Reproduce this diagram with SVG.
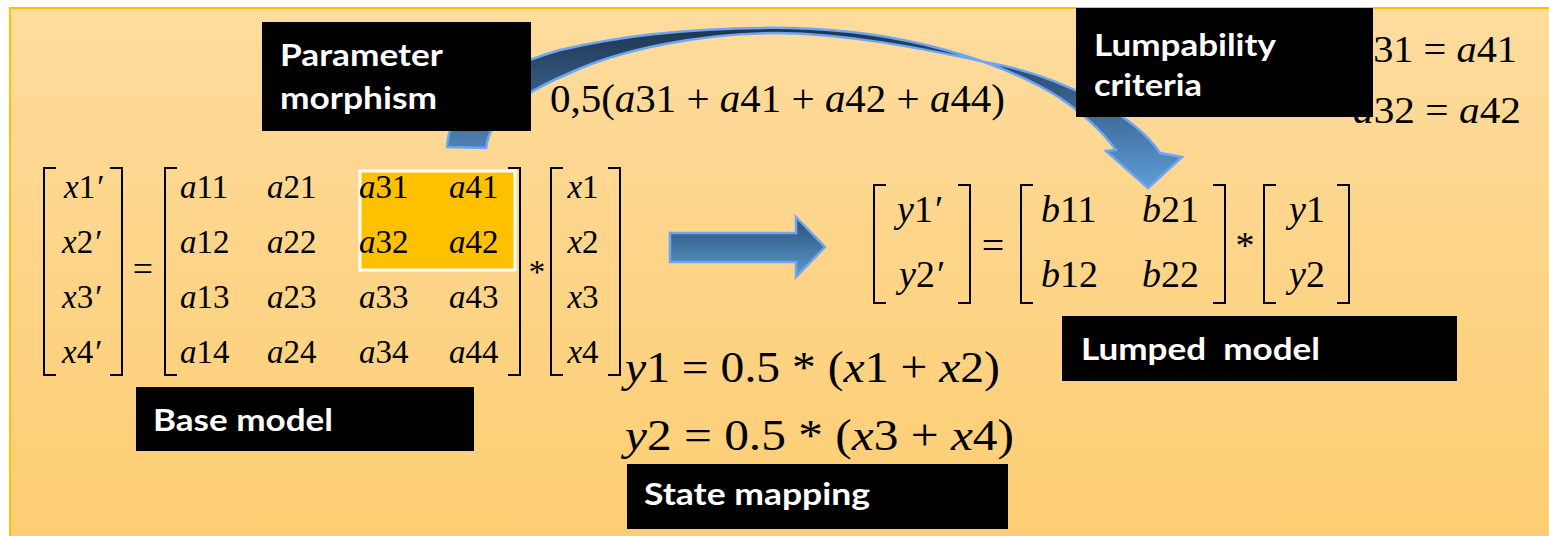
<svg xmlns="http://www.w3.org/2000/svg" width="1549" height="536" viewBox="0 0 1549 536">
<defs>
<linearGradient id="bg" x1="0" y1="0" x2="0" y2="1">
<stop offset="0" stop-color="#FEDC9E"/>
<stop offset="1" stop-color="#FDCD72"/>
</linearGradient>
<linearGradient id="blk" x1="0" y1="0" x2="0" y2="1">
<stop offset="0" stop-color="#2B4E74"/>
<stop offset="1" stop-color="#5A9ACF"/>
</linearGradient>
<linearGradient id="crv" gradientUnits="userSpaceOnUse" x1="0" y1="28" x2="0" y2="188">
<stop offset="0" stop-color="#1F3650"/>
<stop offset="0.4" stop-color="#365C86"/>
<stop offset="1" stop-color="#5E9DD8"/>
</linearGradient>
<style>
.m{font-family:"Liberation Serif","Times New Roman",serif;fill:#000}
.s{font-size:33px}
.r{font-size:38px}
.i{font-style:italic}
.br{fill:none;stroke:#000;stroke-width:2}
.box{fill:#000}
.lbl{font-family:Lato,"Open Sans",sans-serif;font-weight:700;fill:#fff;font-size:31px}
.arr{stroke:#6EA6F5;stroke-width:2.5;stroke-linejoin:miter}
</style>
</defs>
<rect x="10" y="8" width="1545" height="535" fill="url(#bg)" stroke="#FFC000" stroke-width="2"/>

<g id="connectors">
<path id="curved-arrow" class="arr" fill="url(#crv)" d="M447,147 C450,100 490,70 560,50 C640,31 720,27 790,28 C900,30 1000,60 1060,98 C1085,115 1105,135 1116,150 L1106,151 L1148,188 L1182,157 L1160,153 C1135,115 1060,75 985,62 C920,48 850,34 777,33 C700,33 620,50 572,72 C515,96 490,118 486,148 Z"/>
<polygon id="block-arrow" class="arr" fill="url(#blk)" points="670,233 796,233 796,217 825,247 796,277 796,262 670,262"/>
</g>

<g id="base-equation">
<rect x="360" y="171" width="155" height="99" fill="#FFC000" stroke="#FFFFFF" stroke-width="3"/>
<path class="br" d="M56,168 H44 V375 H56 M110,168 H122 V375 H110"/>
<path class="br" d="M177,168 H165 V375 H177 M508,168 H520 V375 H508"/>
<path class="br" d="M563,168 H551 V375 H563 M608,168 H620 V375 H608"/>
<text class="m s" x="64" y="198"><tspan class="i">x</tspan>1<tspan dx="2">′</tspan></text>
<text class="m s" x="62" y="253"><tspan class="i">x</tspan>2<tspan dx="2">′</tspan></text>
<text class="m s" x="62" y="308"><tspan class="i">x</tspan>3<tspan dx="2">′</tspan></text>
<text class="m s" x="62" y="363"><tspan class="i">x</tspan>4<tspan dx="2">′</tspan></text>
<text class="m" style="font-size:36px" x="143" y="281" text-anchor="middle">=</text>
<text class="m s" x="180" y="198"><tspan class="i">a</tspan>11</text>
<text class="m s" x="267" y="198"><tspan class="i">a</tspan>21</text>
<text class="m s" x="359" y="198"><tspan class="i">a</tspan>31</text>
<text class="m s" x="449" y="198"><tspan class="i">a</tspan>41</text>
<text class="m s" x="180" y="253"><tspan class="i">a</tspan>12</text>
<text class="m s" x="267" y="253"><tspan class="i">a</tspan>22</text>
<text class="m s" x="359" y="253"><tspan class="i">a</tspan>32</text>
<text class="m s" x="449" y="253"><tspan class="i">a</tspan>42</text>
<text class="m s" x="180" y="308"><tspan class="i">a</tspan>13</text>
<text class="m s" x="267" y="308"><tspan class="i">a</tspan>23</text>
<text class="m s" x="359" y="308"><tspan class="i">a</tspan>33</text>
<text class="m s" x="449" y="308"><tspan class="i">a</tspan>43</text>
<text class="m s" x="180" y="363"><tspan class="i">a</tspan>14</text>
<text class="m s" x="267" y="363"><tspan class="i">a</tspan>24</text>
<text class="m s" x="359" y="363"><tspan class="i">a</tspan>34</text>
<text class="m s" x="449" y="363"><tspan class="i">a</tspan>44</text>
<text class="m s" x="537" y="283" text-anchor="middle">*</text>
<text class="m s" x="583" y="198" text-anchor="middle"><tspan class="i">x</tspan>1</text>
<text class="m s" x="583" y="253" text-anchor="middle"><tspan class="i">x</tspan>2</text>
<text class="m s" x="583" y="308" text-anchor="middle"><tspan class="i">x</tspan>3</text>
<text class="m s" x="583" y="363" text-anchor="middle"><tspan class="i">x</tspan>4</text>
</g>

<g id="lumped-equation">
<path class="br" d="M886,185 H874 V303 H886 M958,185 H970 V303 H958"/>
<path class="br" d="M1033,185 H1021 V303 H1033 M1213,185 H1225 V303 H1213"/>
<path class="br" d="M1276,185 H1264 V303 H1276 M1337,185 H1349 V303 H1337"/>
<text class="m r" x="897" y="222"><tspan class="i">y</tspan>1<tspan dx="2">′</tspan></text>
<text class="m r" x="899" y="287"><tspan class="i">y</tspan>2<tspan dx="2">′</tspan></text>
<text class="m" style="font-size:40px" x="993" y="259" text-anchor="middle">=</text>
<text class="m r" x="1041" y="222"><tspan class="i">b</tspan>11</text>
<text class="m r" x="1142" y="222"><tspan class="i">b</tspan>21</text>
<text class="m r" x="1041" y="287"><tspan class="i">b</tspan>12</text>
<text class="m r" x="1142" y="287"><tspan class="i">b</tspan>22</text>
<text class="m r" x="1245" y="258" text-anchor="middle">*</text>
<text class="m r" x="1289" y="222"><tspan class="i">y</tspan>1</text>
<text class="m r" x="1289" y="287"><tspan class="i">y</tspan>2</text>
</g>

<g id="morphism-formula">
<text class="m" style="font-size:40px" x="550" y="112" textLength="455" lengthAdjust="spacingAndGlyphs">0,5(<tspan class="i">a</tspan>31 + <tspan class="i">a</tspan>41 + <tspan class="i">a</tspan>42 + <tspan class="i">a</tspan>44)</text>
</g>

<g id="criteria-formula">
<text class="m" style="font-size:37px" x="1353" y="62" textLength="164" lengthAdjust="spacingAndGlyphs"><tspan class="i">a</tspan>31 = <tspan class="i">a</tspan>41</text>
<text class="m" style="font-size:37px" x="1353" y="123" textLength="168" lengthAdjust="spacingAndGlyphs"><tspan class="i">a</tspan>32 = <tspan class="i">a</tspan>42</text>
</g>

<g id="state-equations">
<text class="m" style="font-size:45px" x="625" y="382" textLength="375" lengthAdjust="spacingAndGlyphs"><tspan class="i">y</tspan>1 = 0.5 * (<tspan class="i">x</tspan>1 + <tspan class="i">x</tspan>2)</text>
<text class="m" style="font-size:45px" x="625" y="450" textLength="389" lengthAdjust="spacingAndGlyphs"><tspan class="i">y</tspan>2 = 0.5 * (<tspan class="i">x</tspan>3 + <tspan class="i">x</tspan>4)</text>
</g>

<g id="parameter-morphism">
<rect class="box" x="262" y="22" width="269" height="109"/>
<text class="lbl" x="280" y="66" textLength="163" lengthAdjust="spacingAndGlyphs">Parameter</text>
<text class="lbl" x="280" y="109" textLength="157" lengthAdjust="spacingAndGlyphs">morphism</text>
</g>

<g id="lumpability-criteria">
<rect class="box" x="1076" y="8" width="297" height="109"/>
<text class="lbl" x="1094" y="56" textLength="182" lengthAdjust="spacingAndGlyphs">Lumpability</text>
<text class="lbl" x="1094" y="96" textLength="108" lengthAdjust="spacingAndGlyphs">criteria</text>
</g>

<g id="base-model">
<rect class="box" x="136" y="387" width="338" height="64"/>
<text class="lbl" x="153" y="431" textLength="180" lengthAdjust="spacingAndGlyphs">Base model</text>
</g>

<g id="lumped-model">
<rect class="box" x="1062" y="316" width="395" height="65"/>
<text class="lbl" x="1081" y="360" textLength="239" lengthAdjust="spacingAndGlyphs" xml:space="preserve" style="white-space:pre">Lumped  model</text>
</g>

<g id="state-mapping">
<rect class="box" x="627" y="464" width="381" height="65"/>
<text class="lbl" x="644" y="505" textLength="226" lengthAdjust="spacingAndGlyphs">State mapping</text>
</g>
</svg>
